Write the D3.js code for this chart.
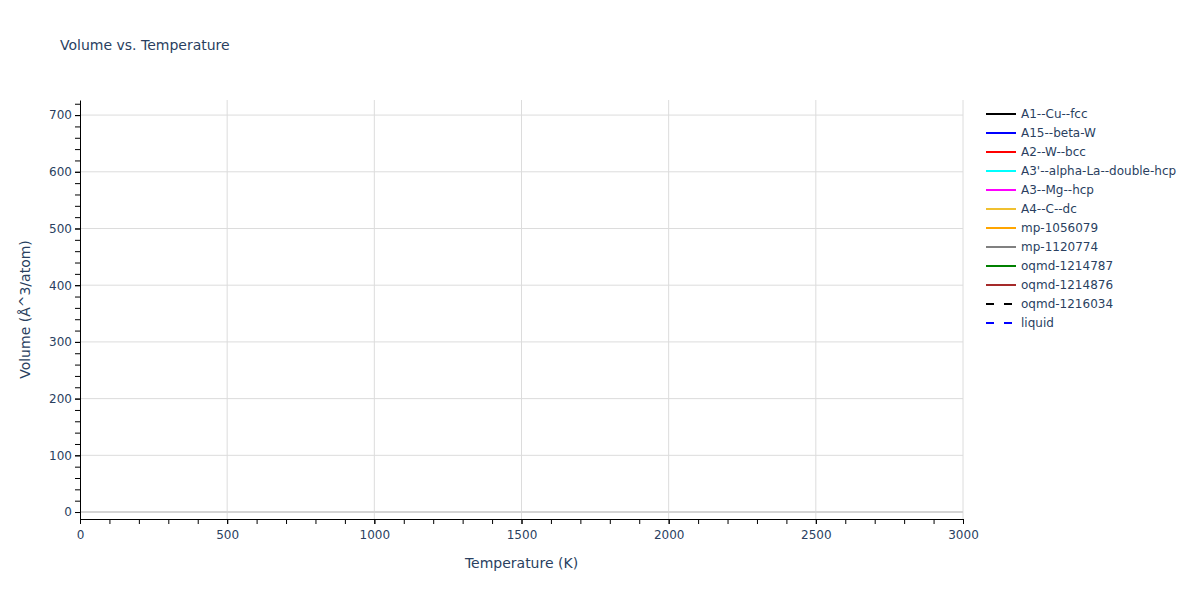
<!DOCTYPE html>
<html>
<head>
<meta charset="utf-8">
<script src="https://cdn.jsdelivr.net/npm/d3@7"></script>
<style>
  body { margin: 0; background: #fff; }
  text { font-family: "DejaVu Sans", verdana, arial, sans-serif; fill: #2a3f5f; }
</style>
</head>
<body>
<svg id="chart" width="1200" height="600"></svg>
<script>
// series shown in the legend; no curve is drawn inside the plot area
var seriesNames = ["A1--Cu--fcc", "A15--beta-W", "A2--W--bcc", "A3'--alpha-La--double-hcp",
  "A3--Mg--hcp", "A4--C--dc", "mp-1056079", "mp-1120774", "oqmd-1214787",
  "oqmd-1214876", "oqmd-1216034", "liquid"];
var seriesColors = ["black", "blue", "red", "cyan", "magenta", "#f0c030", "orange",
  "grey", "green", "brown", "black", "blue"];
var seriesDashed = [false, false, false, false, false, false, false, false, false, false, true, true];
var seriesTemps = [[], [], [], [], [], [], [], [], [], [], [], []];
var seriesVolumes = [[], [], [], [], [], [], [], [], [], [], [], []];

var xTicks = [0, 500, 1000, 1500, 2000, 2500, 3000];
var yTicks = [0, 100, 200, 300, 400, 500, 600, 700];
var xDomain = [0, 3000];
var yDomain = [-12.3, 726.6];

var svg = d3.select("#chart");
var plotLeft = 80, plotRight = 963, plotTop = 100, plotBottom = 519;
var fontStack = "'DejaVu Sans', verdana, arial, sans-serif";

var x = d3.scaleLinear().domain(xDomain).range([plotLeft, plotRight]);
var y = d3.scaleLinear().domain(yDomain).range([plotBottom, plotTop]);

// title
svg.append("text")
  .attr("x", 60)
  .attr("y", 50)
  .attr("font-size", "14px")
  .text("Volume vs. Temperature");

// grid
svg.append("g")
  .selectAll("line")
  .data(xTicks.filter(function(d) { return d > 0; }))
  .enter()
  .append("line")
  .attr("x1", function(d) { return x(d); })
  .attr("x2", function(d) { return x(d); })
  .attr("y1", plotTop)
  .attr("y2", plotBottom)
  .attr("stroke", "#dcdcdc")
  .attr("stroke-width", 1);

svg.append("g")
  .selectAll("line")
  .data(yTicks.filter(function(d) { return d !== 0; }))
  .enter()
  .append("line")
  .attr("x1", plotLeft)
  .attr("x2", plotRight)
  .attr("y1", function(d) { return y(d); })
  .attr("y2", function(d) { return y(d); })
  .attr("stroke", "#dcdcdc")
  .attr("stroke-width", 1);

// zero line
svg.append("line")
  .attr("x1", plotLeft)
  .attr("x2", plotRight)
  .attr("y1", y(0))
  .attr("y2", y(0))
  .attr("stroke", "#d4d4d4")
  .attr("stroke-width", 2);

// data lines
var line = d3.line()
  .x(function(d) { return x(d[0]); })
  .y(function(d) { return y(d[1]); });

svg.append("g")
  .selectAll("path")
  .data(seriesNames)
  .enter()
  .append("path")
  .attr("fill", "none")
  .attr("stroke", function(d, i) { return seriesColors[i]; })
  .attr("stroke-width", 2)
  .attr("stroke-dasharray", function(d, i) { return seriesDashed[i] ? "8,10" : null; })
  .attr("d", function(d, i) {
    var pts = d3.zip(seriesTemps[i], seriesVolumes[i]);
    return pts.length ? line(pts) : null;
  });

// x axis: minor ticks, then major ticks with labels
svg.append("g")
  .attr("transform", "translate(0," + plotBottom + ")")
  .call(d3.axisBottom(x).tickValues(d3.range(0, 3001, 100)).tickSize(5).tickSizeOuter(0).tickFormat(""))
  .call(function(g) { g.select(".domain").remove(); })
  .selectAll("line").attr("stroke", "black");

var xAxis = svg.append("g")
  .attr("transform", "translate(0," + plotBottom + ")")
  .call(d3.axisBottom(x).tickValues(xTicks).tickSize(5).tickSizeOuter(0).tickPadding(6).tickFormat(d3.format("d")));
xAxis.select(".domain").attr("stroke", "black").attr("stroke-width", 1);
xAxis.selectAll("line").attr("stroke", "black");
xAxis.selectAll("text").attr("font-size", "12px").attr("fill", "#2a3f5f")
  .style("font-family", fontStack);

// y axis: minor ticks, then major ticks with labels
svg.append("g")
  .attr("transform", "translate(" + plotLeft + ",0)")
  .call(d3.axisLeft(y).tickValues(d3.range(0, 721, 20)).tickSize(5).tickSizeOuter(0).tickFormat(""))
  .call(function(g) { g.select(".domain").remove(); })
  .selectAll("line").attr("stroke", "black");

var yAxis = svg.append("g")
  .attr("transform", "translate(" + plotLeft + ",0)")
  .call(d3.axisLeft(y).tickValues(yTicks).tickSize(5).tickSizeOuter(0).tickPadding(3).tickFormat(d3.format("d")));
yAxis.select(".domain").attr("stroke", "black").attr("stroke-width", 1);
yAxis.selectAll("line").attr("stroke", "black");
yAxis.selectAll("text").attr("font-size", "12px").attr("fill", "#2a3f5f")
  .style("font-family", fontStack);

// axis titles
svg.append("text")
  .attr("x", (plotLeft + plotRight) / 2)
  .attr("y", 568)
  .attr("text-anchor", "middle")
  .attr("font-size", "14px")
  .text("Temperature (K)");

svg.append("text")
  .attr("transform", "translate(30," + ((plotTop + plotBottom) / 2) + ") rotate(-90)")
  .attr("text-anchor", "middle")
  .attr("font-size", "14px")
  .text("Volume (Å^3/atom)");

// legend
var legend = svg.append("g")
  .attr("transform", "translate(986,114)");

legend.selectAll(".legendLine")
  .data(seriesNames)
  .enter()
  .append("line")
  .attr("class", "legendLine")
  .attr("x1", 0)
  .attr("x2", 30)
  .attr("y1", function(d, i) { return i * 19; })
  .attr("y2", function(d, i) { return i * 19; })
  .attr("stroke", function(d, i) { return seriesColors[i]; })
  .attr("stroke-width", 2)
  .attr("stroke-dasharray", function(d, i) { return seriesDashed[i] ? "8,10" : null; });

legend.selectAll(".legendText")
  .data(seriesNames)
  .enter()
  .append("text")
  .attr("class", "legendText")
  .attr("x", 35)
  .attr("y", function(d, i) { return i * 19 + 4; })
  .attr("font-size", "12px")
  .text(function(d) { return d; });
</script>
</body>
</html>
